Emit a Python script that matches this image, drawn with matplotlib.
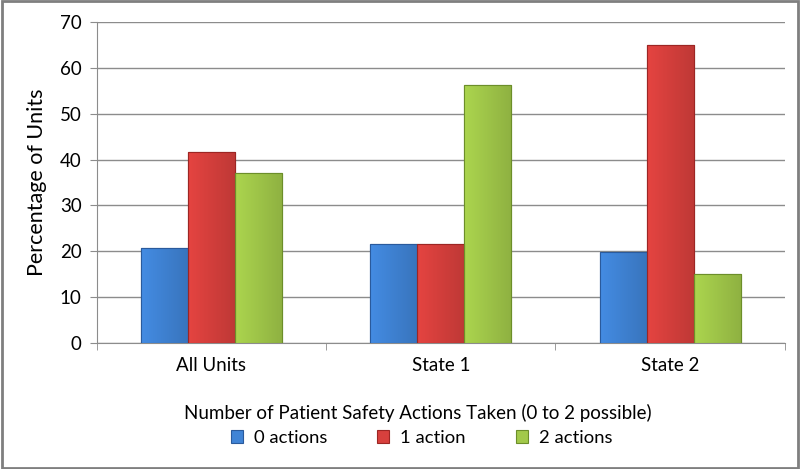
import numpy as np
import matplotlib.pyplot as plt
import matplotlib.colors as mcolors

plt.rcParams['font.family'] = ['Lato', 'DejaVu Sans']

groups = ['All Units', 'State 1', 'State 2']
series = ['0 actions', '1 action', '2 actions']
zero_actions = [20.8, 21.6, 19.9]
one_action = [41.7, 21.6, 64.9]
two_actions = [37.1, 56.3, 15.0]

colors = ['#4084d6', '#d8403d', '#a2c94a']
edges = ['#2a5a9c', '#9c2624', '#6c8e2a']

fig = plt.figure(figsize=(8, 4.69), dpi=100)
ax = fig.add_axes([0.121, 0.269, 0.86, 0.684])

x = np.arange(len(groups))
w = 0.205
for i, (vals, c, e, lab) in enumerate(zip([zero_actions, one_action, two_actions], colors, edges, series)):
    bars = ax.bar(x + (i - 1) * w, vals, width=w, color=c, edgecolor=e, linewidth=0.8, label=lab, zorder=3)
    # soft horizontal shading like the original bevelled bars
    base = np.array(mcolors.to_rgb(c))
    t = np.linspace(0, 1, 64)
    shade = 1.06 - 0.18 * t
    grad = np.clip(base[None, :] * shade[:, None], 0, 1)[None, :, :]
    for b in bars:
        bx, by = b.get_x(), b.get_y()
        im = ax.imshow(grad, extent=(bx, bx + b.get_width(), by, by + b.get_height()),
                       aspect='auto', zorder=3.5, interpolation='bilinear')
        im.set_clip_path(b)
        ax.bar(bx + b.get_width() / 2, b.get_height(), width=b.get_width(), fill=False,
               edgecolor=e, linewidth=0.8, zorder=4)

ax.set_ylim(0, 70)
ax.set_xlim(-0.5, 2.5)
ax.set_yticks(range(0, 71, 10))
ax.yaxis.grid(True, color='#8c8c8c', linewidth=1)
ax.set_axisbelow(True)

# category labels centered, ticks on group boundaries
ax.set_xticks(x)
ax.set_xticklabels(groups, fontsize=13.5)
ax.set_xticks([-0.5, 0.5, 1.5, 2.5], minor=True)
ax.tick_params(axis='x', which='major', length=0, pad=10)
ax.tick_params(axis='x', which='minor', length=5, color='#8c8c8c', direction='out')
ax.tick_params(axis='y', length=5, color='#8c8c8c', labelsize=13.5, pad=6)

for s in ['top', 'right']:
    ax.spines[s].set_visible(False)
ax.spines['left'].set_color('#8c8c8c')
ax.spines['bottom'].set_color('#8c8c8c')

ax.set_ylabel('Percentage of Units', fontsize=15.5, labelpad=9)
ax.set_xlabel('Number of Patient Safety Actions Taken (0 to 2 possible)', fontsize=13.5)
ax.xaxis.set_label_coords(0.467, -0.19)

ax.legend(loc='upper center', bbox_to_anchor=(0.472, -0.22), ncol=3, frameon=False,
          fontsize=13.3, handlelength=0.65, handleheight=0.65, columnspacing=2.7, handletextpad=0.6)

# gray frame around the figure
fig.patches.append(plt.Rectangle((0.002, 0.003), 0.996, 0.994, transform=fig.transFigure,
                                 fill=False, edgecolor='#7f7f7f', linewidth=2))

fig.savefig('out.png', dpi=100)
